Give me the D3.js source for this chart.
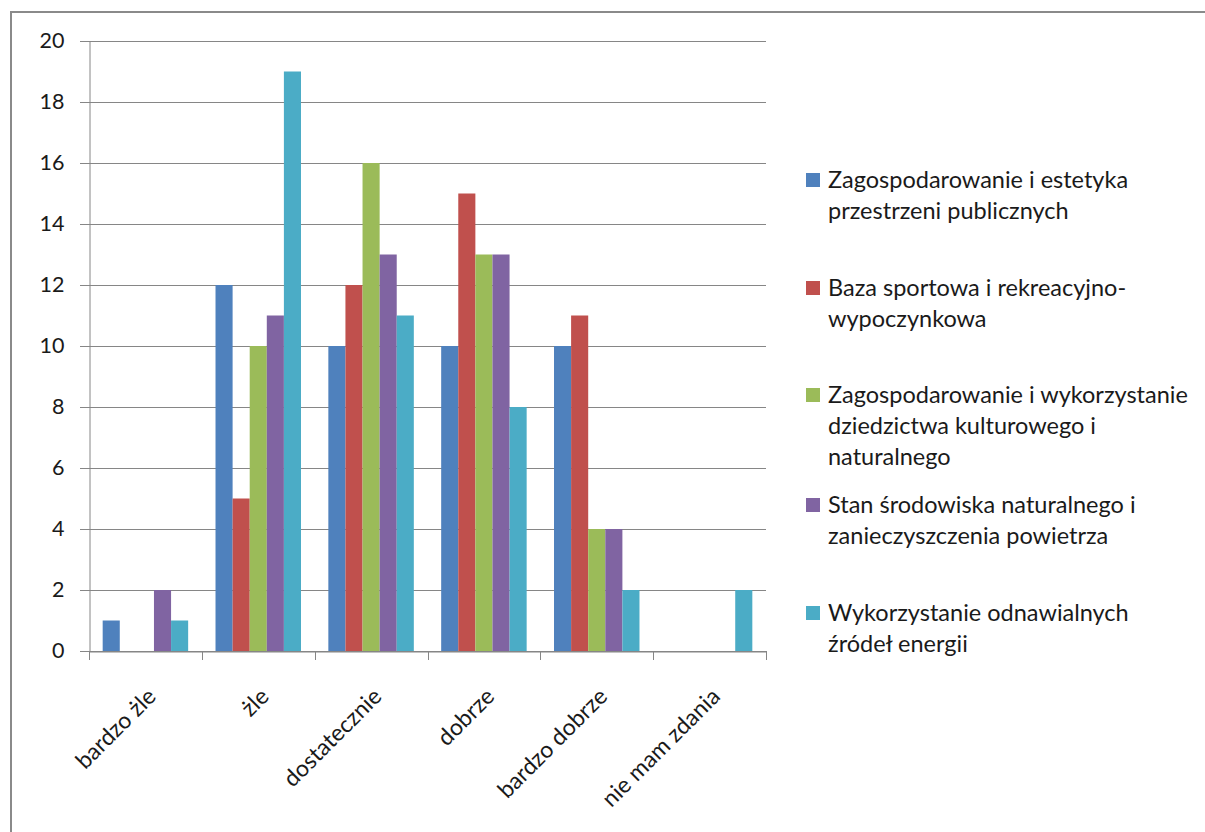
<!DOCTYPE html>
<html><head><meta charset="utf-8">
<script src="https://cdn.jsdelivr.net/npm/d3@7"></script>
<style>html,body{margin:0;padding:0;background:#fff;overflow:hidden}</style>
</head><body>
<svg id="chart" width="1205" height="832"></svg>
<script>
const categories = ["bardzo żle","żle","dostatecznie","dobrze","bardzo dobrze","nie mam zdania"];
const seriesNames = [
  "Zagospodarowanie i estetyka przestrzeni publicznych",
  "Baza sportowa i rekreacyjno-wypoczynkowa",
  "Zagospodarowanie i wykorzystanie dziedzictwa kulturowego i naturalnego",
  "Stan środowiska naturalnego i zanieczyszczenia powietrza",
  "Wykorzystanie odnawialnych źródeł energii"
];
const legendLines = [
  ["Zagospodarowanie i estetyka","przestrzeni publicznych"],
  ["Baza sportowa i rekreacyjno-","wypoczynkowa"],
  ["Zagospodarowanie i wykorzystanie","dziedzictwa kulturowego i","naturalnego"],
  ["Stan środowiska naturalnego i","zanieczyszczenia powietrza"],
  ["Wykorzystanie odnawialnych","źródeł energii"]
];
const s1 = [1,12,10,10,10,0];
const s2 = [0,5,12,15,11,0];
const s3 = [0,10,16,13,4,0];
const s4 = [2,11,13,13,4,0];
const s5 = [1,19,11,8,2,2];
const yTicks = [0,2,4,6,8,10,12,14,16,18,20];
const colors = ["#4F81BD","#C0504D","#9BBB59","#8064A2","#4BACC6"];
const series = [s1,s2,s3,s4,s5];

(function(){
const font = "Lato, 'Open Sans', sans-serif";
const svg = d3.select("#chart");
svg.append("rect").attr("x",11).attr("y",12).attr("width",1300).attr("height",900)
  .attr("fill","none").attr("stroke","#8a8a8a").attr("stroke-width",2);

const pL = 89, pR = 766, pT = 41, pB = 651;
const x = d3.scaleBand().domain(categories).range([pL,pR]).paddingInner(0).paddingOuter(0);
const x1 = d3.scaleBand().domain(d3.range(5)).range([0,x.bandwidth()]).paddingOuter(0.8).paddingInner(0);
const y = d3.scaleLinear().domain([0,20]).range([pB,pT]);

svg.append("g").selectAll("line").data(yTicks).join("line")
  .attr("x1",pL-9).attr("x2",pR).attr("y1",d=>Math.round(y(d))+0.5).attr("y2",d=>Math.round(y(d))+0.5)
  .attr("stroke","#868686").attr("stroke-width",1);

const yAxis = svg.append("g").attr("transform",`translate(${pL+0.5},0)`)
  .call(d3.axisLeft(y).tickValues(yTicks).tickSize(0).tickPadding(25));
yAxis.select(".domain").attr("stroke","#868686");
yAxis.selectAll("text").attr("font-family",font).attr("font-size",21.5).attr("fill","#1a1a1a");

const g = svg.append("g");
series.forEach((vals,si)=>{
  g.append("g").selectAll("rect").data(vals).join("rect")
    .attr("x",(d,i)=>x(categories[i])+x1(si))
    .attr("width",x1.bandwidth())
    .attr("y",d=>y(d))
    .attr("height",d=>y(0)-y(d))
    .attr("fill",colors[si]);
});

const xAxis = svg.append("g").attr("transform",`translate(0,${pB+0.5})`)
  .call(d3.axisBottom(x).tickSize(0).tickFormat(""));
xAxis.select(".domain").attr("stroke","#868686");
xAxis.selectAll(".tick").remove();
const edges = categories.map(c=>x(c)).concat([pR]);
svg.append("g").selectAll("line").data(edges).join("line")
  .attr("x1",d=>Math.round(d)+0.5).attr("x2",d=>Math.round(d)+0.5)
  .attr("y1",pB).attr("y2",pB+9).attr("stroke","#868686");

svg.append("g").selectAll("text").data(categories).join("text")
  .attr("transform",d=>`translate(${x(d)+x.bandwidth()/2+12},${pB+47}) rotate(-45)`)
  .attr("text-anchor","end")
  .attr("font-family",font).attr("font-size",23).attr("fill","#1a1a1a")
  .text(d=>d);

const legY = [180,288,395,505,613];
const lg = svg.append("g");
legendLines.forEach((lines,i)=>{
  lg.append("rect").attr("x",806).attr("y",legY[i]-7).attr("width",14).attr("height",14).attr("fill",colors[i]);
  lines.forEach((ln,j)=>{
    lg.append("text").attr("x",828).attr("y",legY[i]+j*31).attr("dy","0.35em")
      .attr("font-family",font).attr("font-size",23.5).attr("fill","#1a1a1a").text(ln);
  });
});
})();
</script>
</body></html>
